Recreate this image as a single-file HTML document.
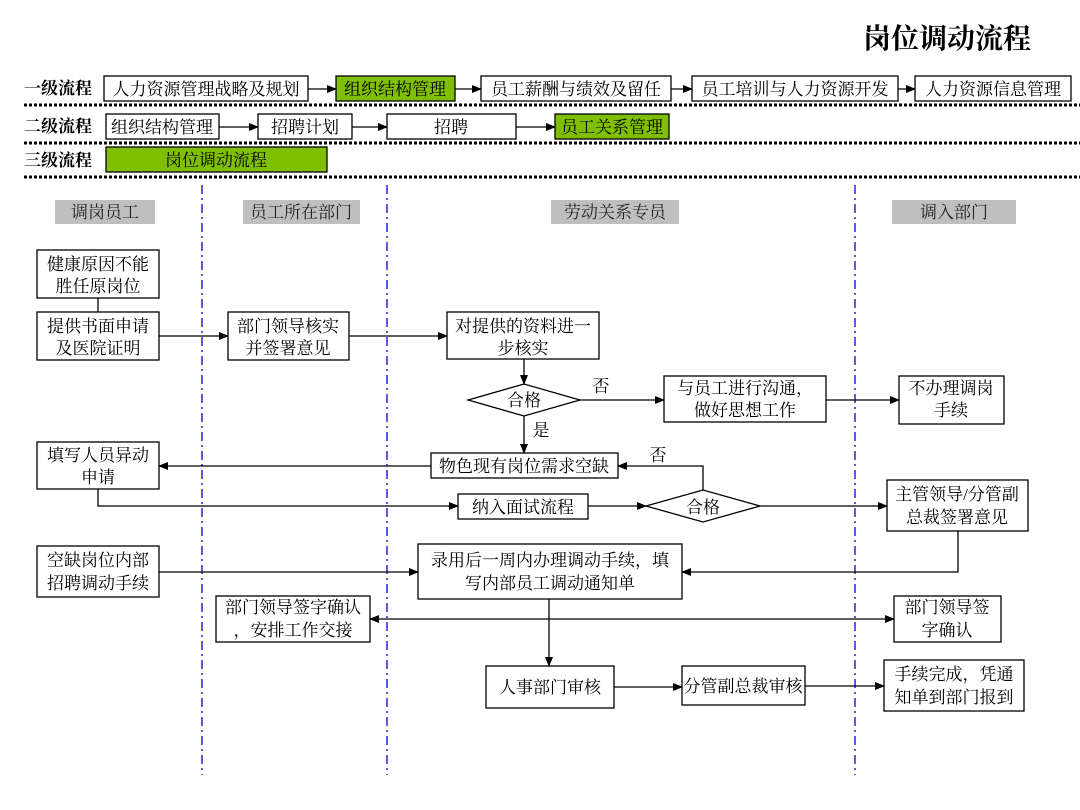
<!DOCTYPE html>
<html><head><meta charset="utf-8"><style>
html,body{margin:0;padding:0;background:#fff;}
svg{display:block;font-family:"Liberation Serif","Noto Serif CJK SC",serif;}
</style></head><body>
<svg width="1080" height="810" viewBox="0 0 1080 810" xmlns="http://www.w3.org/2000/svg">
<defs>
<marker id="ar" markerWidth="10" markerHeight="8" refX="9" refY="4" orient="auto" markerUnits="userSpaceOnUse"><path d="M0,0 L10,4 L0,8 Z" fill="#000"/></marker>
<marker id="as" markerWidth="10" markerHeight="8" refX="1" refY="4" orient="auto" markerUnits="userSpaceOnUse"><path d="M10,0 L0,4 L10,8 Z" fill="#000"/></marker>
</defs>
<text x="947" y="48" font-size="28" font-weight="bold" text-anchor="middle">岗位调动流程</text>

<g font-size="17" font-weight="bold">
<text x="24" y="94">一级流程</text>
<text x="24" y="132">二级流程</text>
<text x="24" y="166">三级流程</text>
</g>
<g stroke="#000" stroke-width="1.3" fill="#fff">
<rect x="104" y="76" width="204" height="25"/>
<rect x="336" y="76" width="119" height="25" fill="#7fbf00"/>
<rect x="481" y="76" width="190" height="25"/>
<rect x="692" y="76" width="206" height="25"/>
<rect x="915" y="76" width="156" height="25"/>
<rect x="106" y="114" width="113" height="25"/>
<rect x="258" y="114" width="94" height="25"/>
<rect x="387" y="114" width="129" height="25"/>
<rect x="555" y="114" width="114" height="25" fill="#7fbf00"/>
<rect x="106" y="147" width="221" height="25" fill="#7fbf00"/>
</g>
<g font-size="17" text-anchor="middle">
<text x="206" y="95">人力资源管理战略及规划</text>
<text x="395" y="95">组织结构管理</text>
<text x="576" y="95">员工薪酬与绩效及留任</text>
<text x="795" y="95">员工培训与人力资源开发</text>
<text x="993" y="95">人力资源信息管理</text>
<text x="162" y="133">组织结构管理</text>
<text x="305" y="133">招聘计划</text>
<text x="451" y="133">招聘</text>
<text x="612" y="133">员工关系管理</text>
<text x="216" y="166">岗位调动流程</text>
</g>
<g stroke="#000" stroke-width="1.3" marker-end="url(#ar)">
<line x1="308" y1="89" x2="336" y2="89"/>
<line x1="455" y1="89" x2="481" y2="89"/>
<line x1="671" y1="89" x2="692" y2="89"/>
<line x1="898" y1="89" x2="915" y2="89"/>
<line x1="219" y1="127" x2="258" y2="127"/>
<line x1="352" y1="127" x2="387" y2="127"/>
<line x1="516" y1="127" x2="555" y2="127"/>
</g>
<g stroke="#000" stroke-width="3" stroke-dasharray="3,2">
<line x1="24" y1="105" x2="1080" y2="105"/>
<line x1="24" y1="143" x2="1080" y2="143"/>
<line x1="24" y1="177" x2="1080" y2="177"/>
</g>
<g stroke="#0000cc" stroke-width="1.3" stroke-dasharray="9,4,2,4">
<line x1="202" y1="185" x2="202" y2="775"/>
<line x1="387" y1="185" x2="387" y2="775"/>
<line x1="855" y1="185" x2="855" y2="775"/>
</g>
<g fill="#bfbfbf">
<rect x="55" y="200" width="100" height="24"/>
<rect x="243" y="200" width="117" height="24"/>
<rect x="551" y="200" width="128" height="24"/>
<rect x="892" y="200" width="124" height="24"/>
</g>
<g font-size="17" text-anchor="middle" fill="#222">
<text x="105" y="218">调岗员工</text>
<text x="301" y="218">员工所在部门</text>
<text x="615" y="218">劳动关系专员</text>
<text x="954" y="218">调入部门</text>
</g>

<g stroke="#000" stroke-width="1.3" fill="#fff">
<rect x="37" y="250" width="122" height="48"/>
<rect x="37" y="312" width="122" height="48"/>
<rect x="228" y="312" width="121" height="48"/>
<rect x="447" y="312" width="152" height="47"/>
<polygon points="468,400 524,384 580,400 524,416"/>
<rect x="664" y="376" width="162" height="46"/>
<rect x="899" y="376" width="105" height="48"/>
<rect x="431" y="453" width="187" height="25"/>
<rect x="37" y="442" width="122" height="47"/>
<rect x="458" y="494" width="130" height="25"/>
<polygon points="646,506 703,490 760,506 703,522"/>
<rect x="887" y="480" width="141" height="51"/>
<rect x="37" y="546" width="122" height="51"/>
<rect x="418" y="544" width="264" height="55"/>
<rect x="216" y="596" width="154" height="46"/>
<rect x="894" y="596" width="107" height="46"/>
<rect x="486" y="666" width="128" height="42"/>
<rect x="682" y="666" width="123" height="39"/>
<rect x="884" y="660" width="140" height="51"/>
</g>
<g font-size="17" text-anchor="middle">
<text x="98" y="270">健康原因不能</text><text x="98" y="292">胜任原岗位</text>
<text x="98" y="332">提供书面申请</text><text x="98" y="354">及医院证明</text>
<text x="288" y="332">部门领导核实</text><text x="288" y="354">并签署意见</text>
<text x="523" y="332">对提供的资料进一</text><text x="523" y="354">步核实</text>
<text x="524" y="406">合格</text>
<text x="745" y="394">与员工进行沟通，</text><text x="745" y="416">做好思想工作</text>
<text x="951" y="394">不办理调岗</text><text x="951" y="416">手续</text>
<text x="524" y="472">物色现有岗位需求空缺</text>
<text x="98" y="461">填写人员异动</text><text x="98" y="483">申请</text>
<text x="523" y="513">纳入面试流程</text>
<text x="703" y="513">合格</text>
<text x="957" y="500">主管领导/分管副</text><text x="957" y="523">总裁签署意见</text>
<text x="98" y="566">空缺岗位内部</text><text x="98" y="589">招聘调动手续</text>
<text x="550" y="566">录用后一周内办理调动手续，填</text><text x="550" y="589">写内部员工调动通知单</text>
<text x="293" y="613">部门领导签字确认</text><text x="293" y="636">，安排工作交接</text>
<text x="947" y="613">部门领导签</text><text x="947" y="636">字确认</text>
<text x="550" y="693">人事部门审核</text>
<text x="743" y="692">分管副总裁审核</text>
<text x="954" y="680">手续完成，凭通</text><text x="954" y="703">知单到部门报到</text>
<text x="601" y="392">否</text>
<text x="541" y="436">是</text>
<text x="658" y="461">否</text>
</g>
<g stroke="#000" stroke-width="1.3" fill="none">
<line x1="98" y1="298" x2="98" y2="312"/>
<line x1="159" y1="336" x2="228" y2="336" marker-end="url(#ar)"/>
<line x1="349" y1="336" x2="447" y2="336" marker-end="url(#ar)"/>
<line x1="524" y1="359" x2="524" y2="384" marker-end="url(#ar)"/>
<line x1="580" y1="400" x2="664" y2="400" marker-end="url(#ar)"/>
<line x1="826" y1="400" x2="899" y2="400" marker-end="url(#ar)"/>
<line x1="524" y1="416" x2="524" y2="453" marker-end="url(#ar)"/>
<line x1="431" y1="466" x2="159" y2="466" marker-end="url(#ar)"/>
<polyline points="703,490 703,466 618,466" marker-end="url(#ar)"/>
<polyline points="98,489 98,506 458,506" marker-end="url(#ar)"/>
<line x1="588" y1="506" x2="646" y2="506" marker-end="url(#ar)"/>
<line x1="760" y1="506" x2="887" y2="506" marker-end="url(#ar)"/>
<polyline points="958,531 958,572 682,572" marker-end="url(#ar)"/>
<line x1="159" y1="572" x2="418" y2="572" marker-end="url(#ar)"/>
<line x1="370" y1="619" x2="894" y2="619" marker-start="url(#as)" marker-end="url(#ar)"/>
<line x1="549" y1="599" x2="549" y2="666" marker-end="url(#ar)"/>
<line x1="614" y1="687" x2="682" y2="687" marker-end="url(#ar)"/>
<line x1="805" y1="686" x2="884" y2="686" marker-end="url(#ar)"/>
</g>
</svg>
</body></html>
